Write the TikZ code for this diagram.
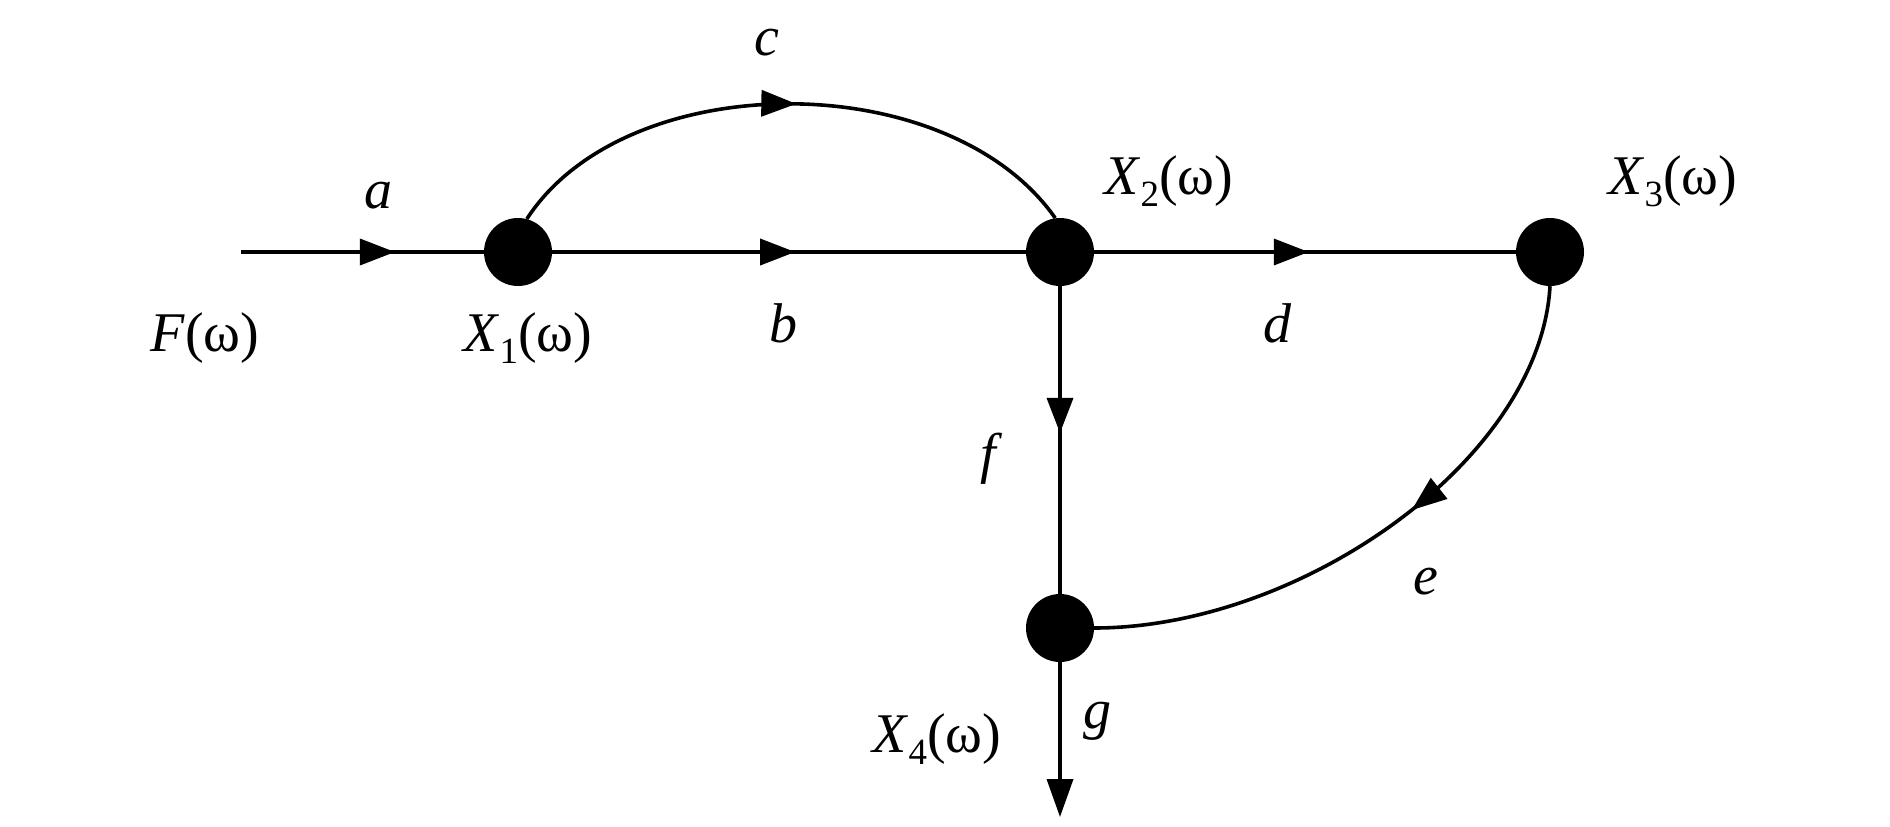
\documentclass[tikz,border=0pt]{standalone}
\usepackage{fontspec}
\setmainfont{Liberation Serif}
\usetikzlibrary{arrows.meta,decorations.markings}
\newcommand{\mysub}[1]{\raisebox{-0.22em}{\fontsize{37}{37}\selectfont #1}}
\tikzset{
  dot/.style={circle, fill=black, minimum size=68pt, inner sep=0pt},
  lbl/.style={font=\fontsize{56}{60}\selectfont, inner sep=0pt},
  wire/.style={line width=3.6pt},
  midarrow/.style={postaction={decorate}, decoration={markings, mark=at position #1 with {\arrow{Triangle[length=35pt,width=26pt]}}}},
}
\begin{document}
\begin{tikzpicture}[x=1pt,y=-1pt]
\useasboundingbox (0,0) rectangle (1890,827);
% nodes
\node[dot] (X1) at (518,252) {};
\node[dot] (X2) at (1060,252) {};
\node[dot] (X3) at (1550,252) {};
\node[dot] (X4) at (1060,628) {};
\coordinate (F) at (241,252);
\coordinate (G) at (1060,817);
% connectors
\draw[wire, midarrow=0.634] (F) -- (X1);
\draw[wire, midarrow=0.513] (X1) -- (X2);
\draw[wire, midarrow=0.509] (X2) -- (X3);
\draw[wire, midarrow=0.477] (X2) -- (X4);
\draw[wire, -{Triangle[length=38pt,width=26pt]}] (X4) -- (G);
\draw[wire, midarrow=0.51] (X1.75) .. controls +(99,-153) and +(-107,-153) .. (X2.98);
\draw[wire, midarrow=0.44] (X3.south) .. controls +(-10,174) and +(206,0) .. (X4.east);
% labels
\node[lbl] (la) at (378,196) {\textit{a}};
\node[lbl] (lb) at (783,323) {\textit{b}};
\node[lbl] (lc) at (767,43) {\textit{c}};
\node[lbl] (ld) at (1278,323) {\textit{d}};
\node[lbl] (le) at (1426,582) {\textit{e}};
\node[lbl] (lf) at (991,459) {\textit{f}};
\node[lbl] (lg) at (1097,721) {\textit{g}};
\node[lbl] (lF) at (205,338) {\textit{F}(ω)};
\node[lbl] (lX1) at (528,338) {\textit{X}\mysub{1}(ω)};
\node[lbl] (lX2) at (1169,181) {\textit{X}\mysub{2}(ω)};
\node[lbl] (lX3) at (1673,181) {\textit{X}\mysub{3}(ω)};
\node[lbl] (lX4) at (937,739) {\textit{X}\mysub{4}(ω)};
\end{tikzpicture}
\end{document}
